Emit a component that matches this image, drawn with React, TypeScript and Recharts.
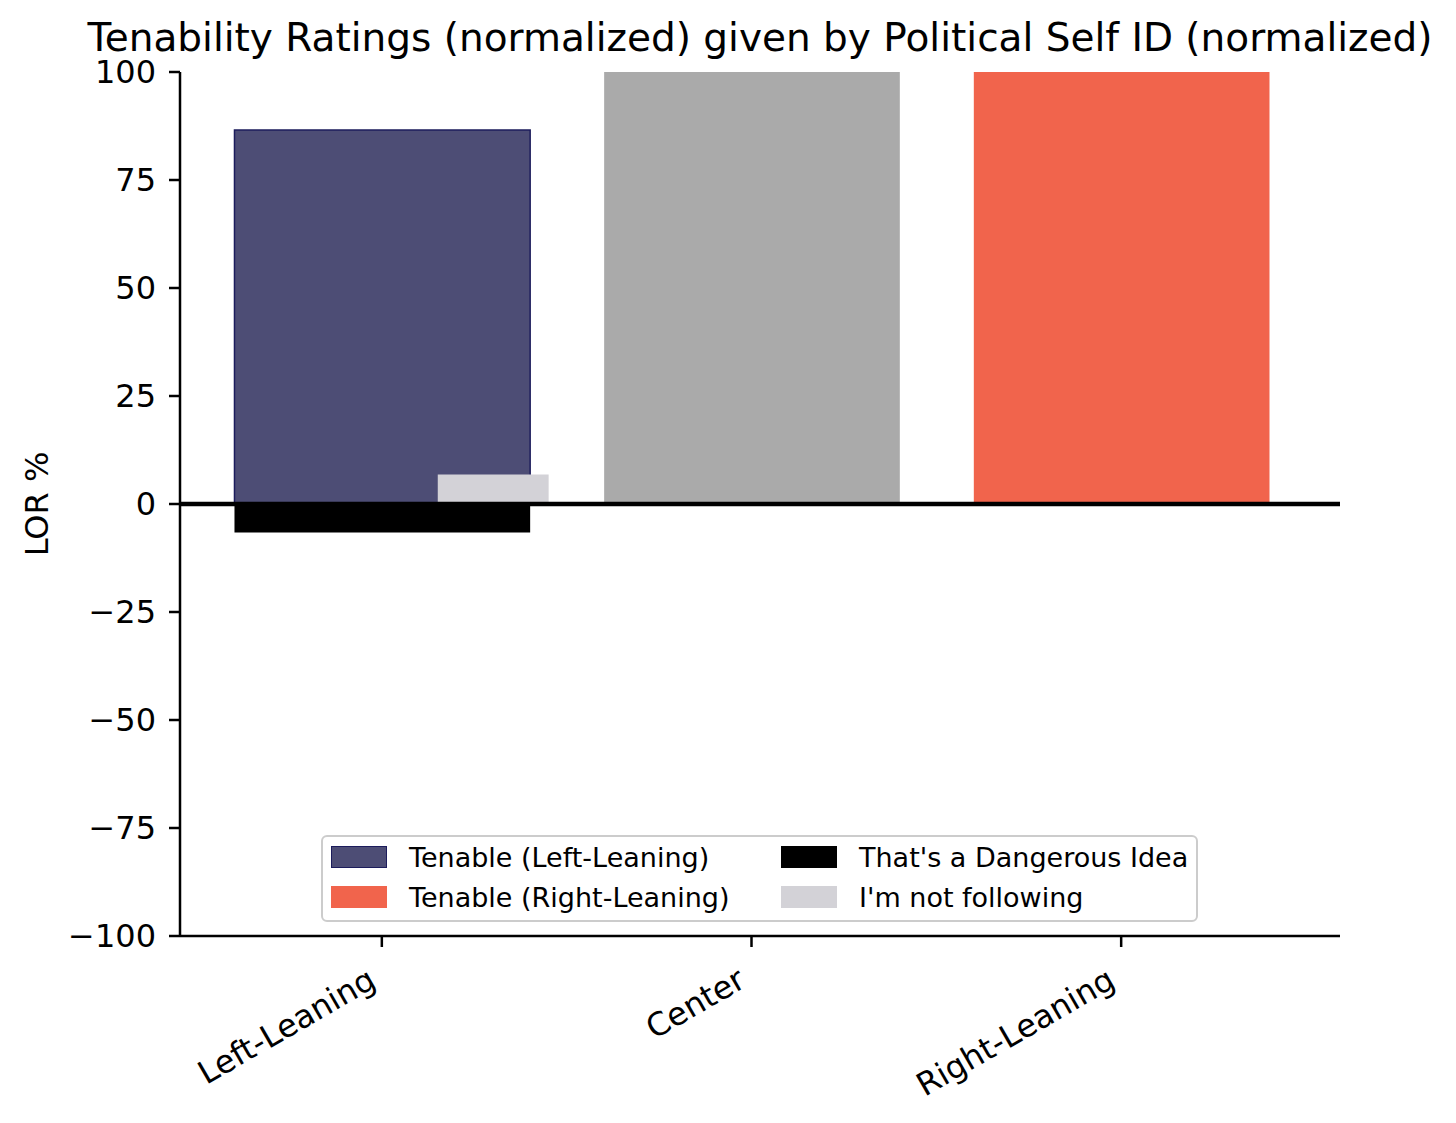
import React from "react";
import {
	BarChart,
	Bar,
	Cell,
	XAxis,
	YAxis,
	ReferenceLine,
	Legend,
	Label,
} from "recharts";

const categories = ["Left-Leaning", "Center", "Right-Leaning"];
const tenable = [86.6, 100, 100];
const dangerous = [-6.6, 0, 0];
const notFollowing = [6.8, 0, 0];
const yTicks = [-100, -75, -50, -25, 0, 25, 50, 75, 100];

const tenableColors = ["#4d4d75", "#aaaaaa", "#f1644c"];
const tenableEdges = ["#1c1c5c", "none", "none"];

// matplotlib legend, column-major order
const legendItems = [
	{ label: "Tenable (Left-Leaning)", color: "#4d4d75", edge: "#1c1c5c" },
	{ label: "Tenable (Right-Leaning)", color: "#f1644c", edge: "#f1644c" },
	{ label: "That's a Dangerous Idea", color: "#000000", edge: "#000000" },
	{ label: "I'm not following", color: "#d3d2d7", edge: "#d3d2d7" },
];

const data = categories.map((name, i) => ({
	name,
	tenable: tenable[i],
	dangerous: dangerous[i],
	notFollowing: notFollowing[i],
}));

const FONT = "'DejaVu Sans', sans-serif";
const BAND = 369.6;

const fmt = (v: number) => (v < 0 ? "\u2212" + Math.abs(v) : String(v));

const XTick = (props: any) => {
	const { x, y, payload } = props;
	const tx = x - 4;
	const ty = y + 39;
	return (
		<text
			x={tx}
			y={ty}
			textAnchor="end"
			fontSize={32}
			fontFamily={FONT}
			fill="#000"
			transform={`rotate(-30, ${tx}, ${ty})`}
		>
			{payload.value}
		</text>
	);
};

const LegendBox = () => (
	<div
		style={{
			boxSizing: "border-box",
			width: 877,
			height: 87,
			border: "2px solid #cccccc",
			borderRadius: 6,
			background: "rgba(255,255,255,0.8)",
			paddingLeft: 8,
			display: "grid",
			gridTemplateRows: "40px 40px",
			gridTemplateColumns: "450px auto",
			gridAutoFlow: "column",
			fontFamily: FONT,
			fontSize: 27,
			color: "#000",
		}}
	>
		{legendItems.map((it) => (
			<div key={it.label} style={{ display: "flex", alignItems: "center" }}>
				<span
					style={{
						boxSizing: "border-box",
						width: 56,
						height: 22,
						background: it.color,
						border: `1px solid ${it.edge}`,
						marginRight: 22,
					}}
				/>
				<span style={{ whiteSpace: "nowrap" }}>{it.label}</span>
			</div>
		))}
	</div>
);

const App: React.FC = () => {
	return (
		<div style={{ position: "absolute", left: 0, top: 0, width: 1456, height: 1123, background: "#fff", fontFamily: FONT }}>
			<div
				style={{
					position: "absolute",
					left: 760,
					top: 18,
					transform: "translateX(-50%)",
					fontSize: 39,
					lineHeight: "39px",
					whiteSpace: "nowrap",
				}}
			>
				Tenability Ratings (normalized) given by Political Self ID (normalized)
			</div>
			<BarChart
				width={1456}
				height={1123}
				data={data}
				margin={{ top: 72, right: 116, bottom: 0, left: 0 }}
				stackOffset="sign"
				barGap={-0.25 * BAND}
				style={{ position: "absolute", left: 0, top: 0 }}
			>
				<XAxis
					dataKey="name"
					height={187}
					padding={{ left: 17, right: 34 }}
					tick={<XTick />}
					tickSize={11}
					tickMargin={0}
					tickLine={{ stroke: "#000", strokeWidth: 2.5 }}
					axisLine={{ stroke: "#000", strokeWidth: 2.5 }}
					interval={0}
				/>
				<XAxis
					xAxisId="top"
					dataKey="name"
					orientation="top"
					height={0}
					tick={false}
					tickLine={false}
					axisLine={{ stroke: "#000", strokeWidth: 2.5 }}
				/>
				<YAxis
					width={180}
					domain={[-100, 100]}
					ticks={yTicks}
					tickFormatter={fmt}
					tickSize={11}
					tickMargin={13}
					tickLine={{ stroke: "#000", strokeWidth: 2.5 }}
					axisLine={{ stroke: "#000", strokeWidth: 2.5 }}
					tick={{ fontSize: 32, fill: "#000", fontFamily: FONT }}
					allowDataOverflow
				>
					<Label
						content={(p: any) => {
							const vb = p.viewBox;
							const cx = vb.x + 37;
							const cy = vb.y + vb.height / 2;
							return (
								<text
									x={cx}
									y={cy}
									textAnchor="middle"
									dominantBaseline="central"
									fontSize={32}
									fontFamily={FONT}
									fill="#000"
									transform={`rotate(-90, ${cx}, ${cy})`}
								>
									LOR %
								</text>
							);
						}}
					/>
				</YAxis>
				<YAxis
					yAxisId="right"
					orientation="right"
					width={0}
					domain={[-100, 100]}
					tick={false}
					tickLine={false}
					axisLine={{ stroke: "#000", strokeWidth: 2.5 }}
				/>
				{/* empty group on the left balances the offset "not following" bar,
				    so the main stack stays centred on its tick */}
				<Bar dataKey="spacer" stackId="a" barSize={0.3 * BAND} legendType="none" isAnimationActive={false} />
				<Bar dataKey="tenable" stackId="b" barSize={0.8 * BAND} isAnimationActive={false}>
					{data.map((d, i) => (
						<Cell key={d.name} fill={tenableColors[i]} stroke={tenableEdges[i]} strokeWidth={1.5} />
					))}
				</Bar>
				<Bar dataKey="dangerous" stackId="b" barSize={0.8 * BAND} fill="#000000" isAnimationActive={false} />
				<Bar dataKey="notFollowing" stackId="c" barSize={0.3 * BAND} fill="#d3d2d7" isAnimationActive={false} />
				<ReferenceLine y={0} stroke="#000" strokeWidth={4.5} />
				<Legend
					layout="horizontal"
					verticalAlign="middle"
					align="center"
					content={<LegendBox />}
					wrapperStyle={{ left: 321, top: 835, width: 877, height: 87 }}
				/>
			</BarChart>
		</div>
	);
};

export default App;
